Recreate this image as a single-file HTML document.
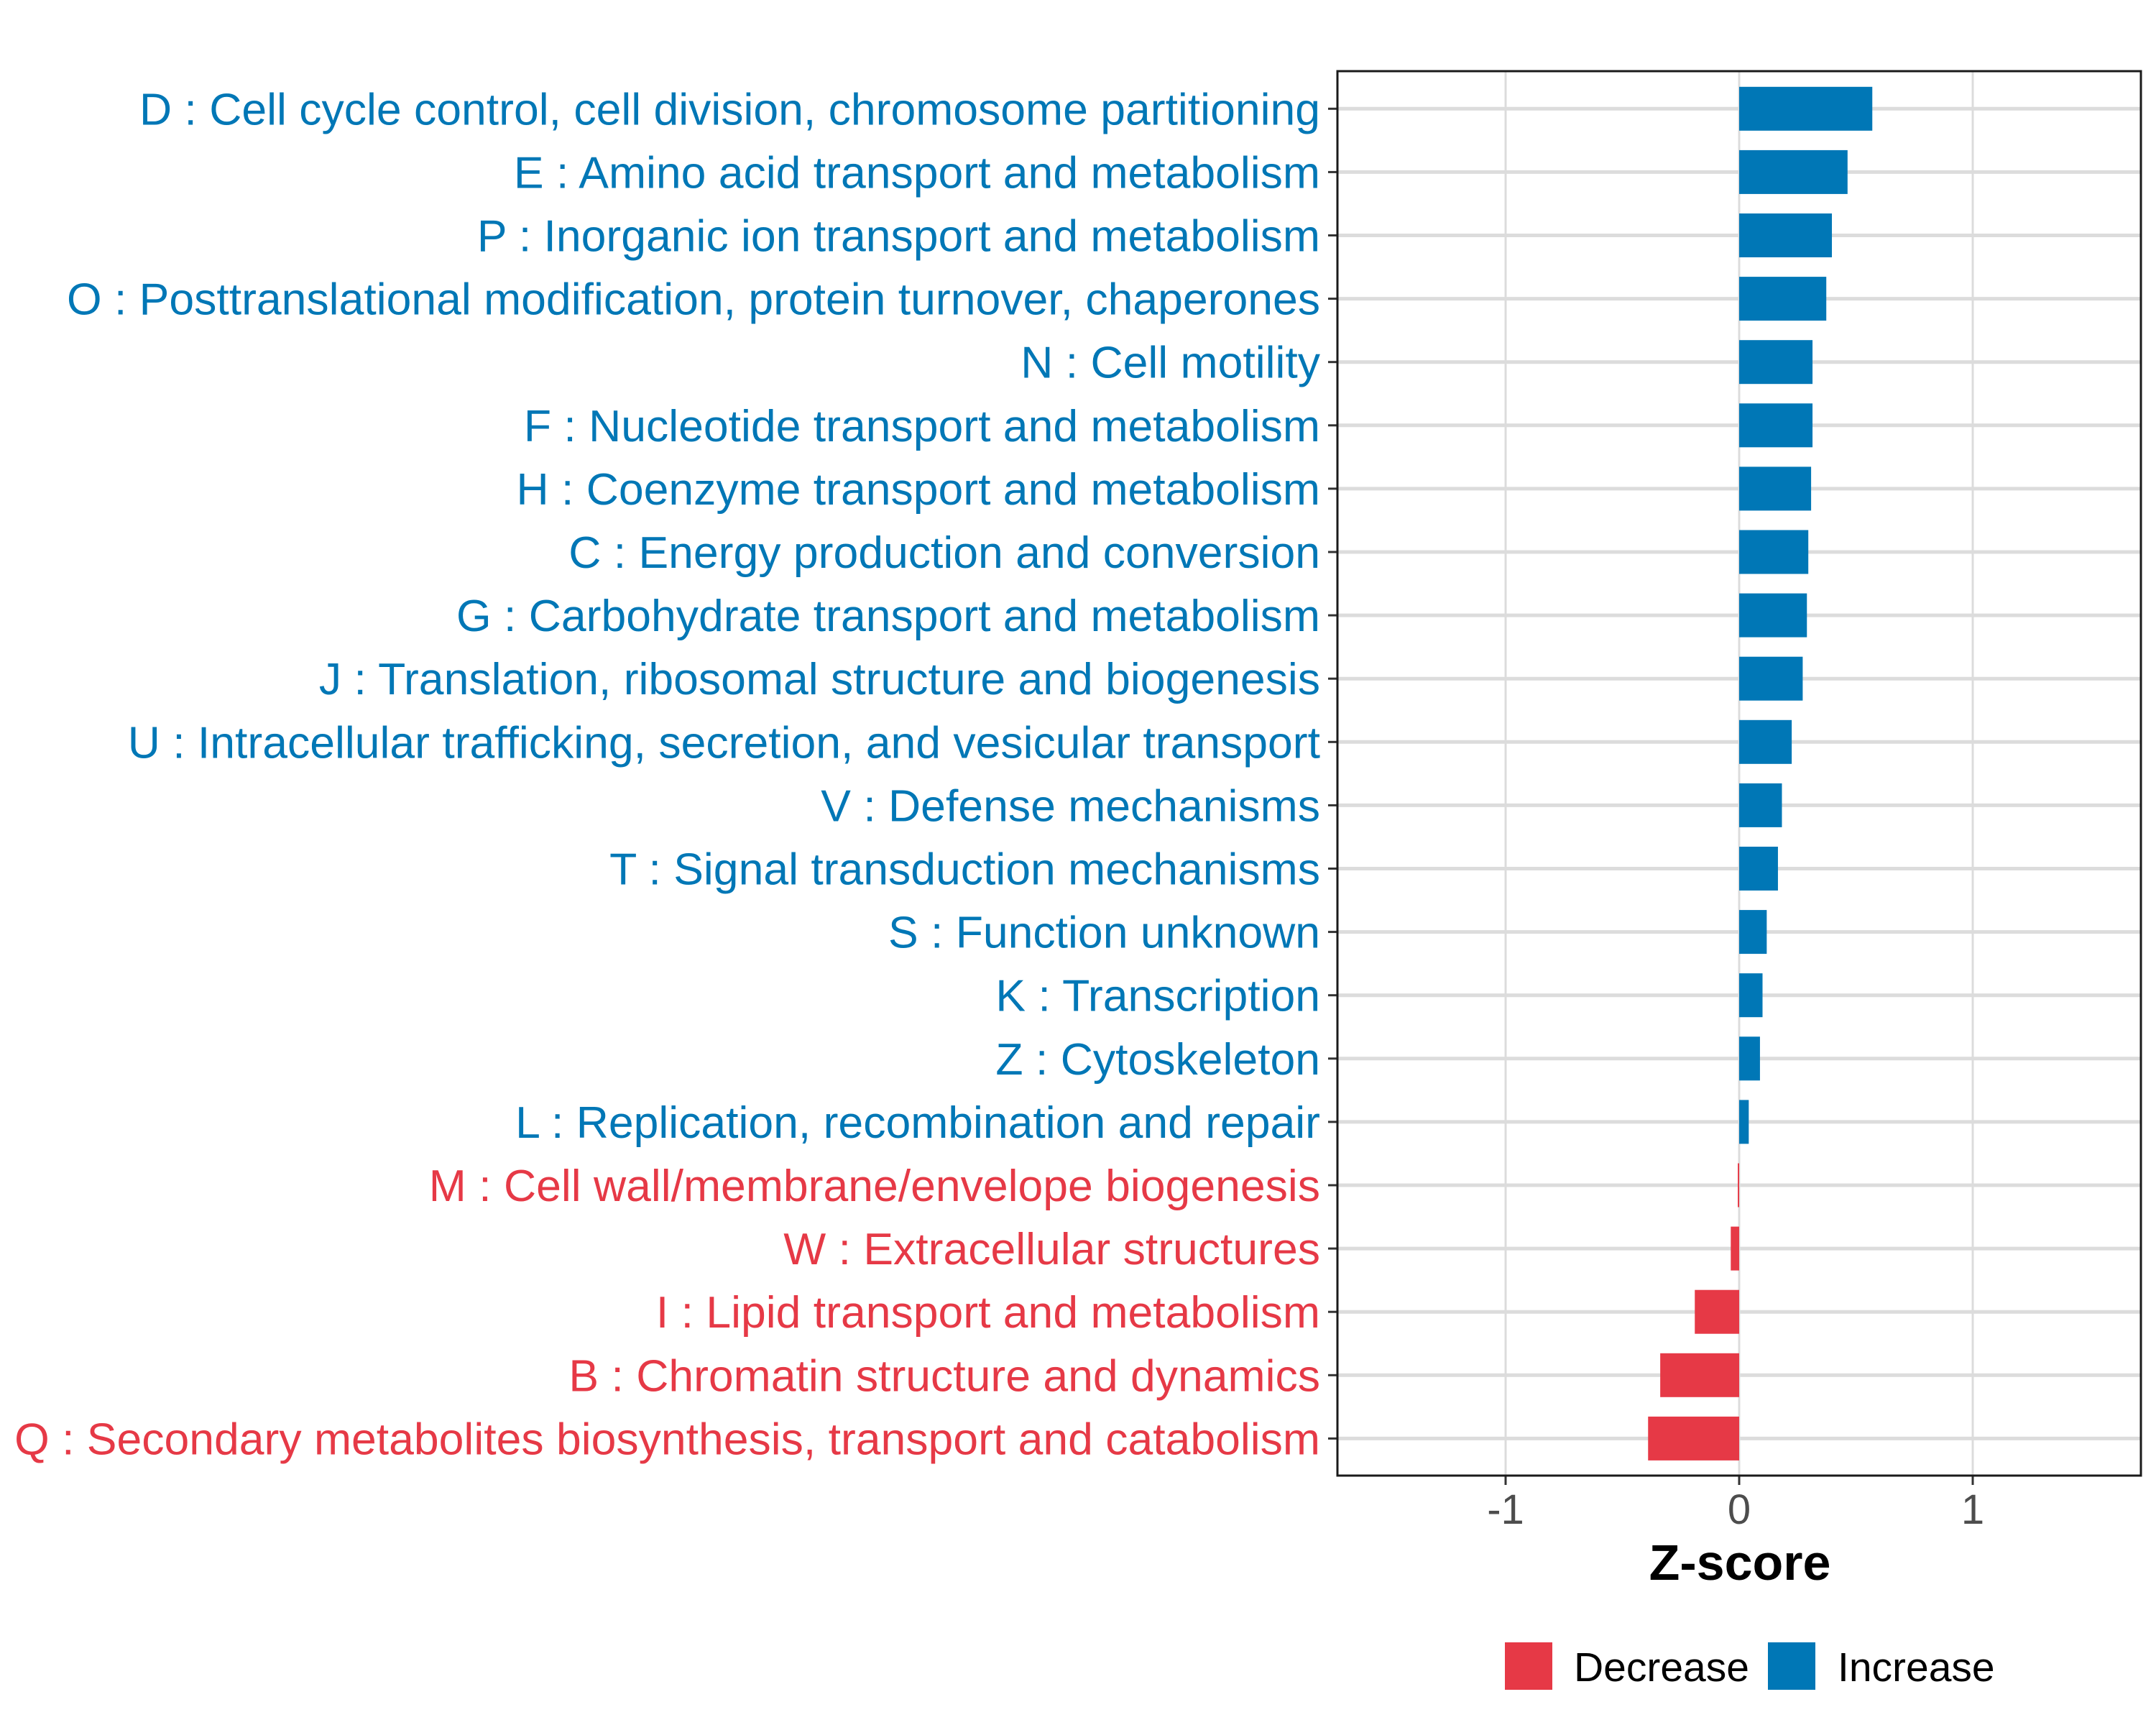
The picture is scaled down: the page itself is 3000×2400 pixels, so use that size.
<!DOCTYPE html>
<html><head><meta charset="utf-8"><style>
html,body{margin:0;padding:0;background:#fff;}
svg{display:block;font-family:"Liberation Sans",Arial,sans-serif;}
</style></head><body>
<svg id="chart" width="3000" height="2400" viewBox="0 0 3000 2400">
<rect x="0" y="0" width="3000" height="2400" fill="#fff"/>
<g id="grid"></g>
<g id="bars"></g>
<g id="ylabels"></g>
<g id="xaxis"></g>
<rect x="1861" y="99" width="1118" height="1954" fill="none" stroke="#1a1a1a" stroke-width="3"/>
<text x="2421" y="2198" text-anchor="middle" font-size="70" font-weight="bold" fill="#000">Z-score</text>
<g>
<rect x="2094" y="2285" width="66" height="66" fill="#E63946"/>
<text x="2190" y="2339" font-size="57" fill="#000">Decrease</text>
<rect x="2460" y="2285" width="66" height="66" fill="#0077B6"/>
<text x="2557" y="2339" font-size="57" fill="#000">Increase</text>
</g>
</svg>
<script>
const categories = [
"D : Cell cycle control, cell division, chromosome partitioning",
"E : Amino acid transport and metabolism",
"P : Inorganic ion transport and metabolism",
"O : Posttranslational modification, protein turnover, chaperones",
"N : Cell motility",
"F : Nucleotide transport and metabolism",
"H : Coenzyme transport and metabolism",
"C : Energy production and conversion",
"G : Carbohydrate transport and metabolism",
"J : Translation, ribosomal structure and biogenesis",
"U : Intracellular trafficking, secretion, and vesicular transport",
"V : Defense mechanisms",
"T : Signal transduction mechanisms",
"S : Function unknown",
"K : Transcription",
"Z : Cytoskeleton",
"L : Replication, recombination and repair",
"M : Cell wall/membrane/envelope biogenesis",
"W : Extracellular structures",
"I : Lipid transport and metabolism",
"B : Chromatin structure and dynamics",
"Q : Secondary metabolites biosynthesis, transport and catabolism"
];
const zscores = [0.57,0.464,0.397,0.373,0.314,0.314,0.308,0.296,0.29,0.272,0.225,0.183,0.166,0.118,0.1,0.089,0.041,-0.006,-0.036,-0.19,-0.338,-0.39];
const xTicks = [-1,0,1];
const xTickLabels = ["-1","0","1"];

const NS="http://www.w3.org/2000/svg";
const PL=1861, PR=2979, PT=99, PB=2053;
const XMIN=-1.72, XMAX=1.72;
const ROW0=151.3, STEP=88.1, BARH=61;
function xs(v){return PL+(v-XMIN)/(XMAX-XMIN)*(PR-PL);}
function ys(i){return ROW0+i*STEP;}
function mk(tag,attrs,parent){const e=document.createElementNS(NS,tag);for(const k in attrs)e.setAttribute(k,attrs[k]);parent.appendChild(e);return e;}
const grid=document.getElementById('grid'),bars=document.getElementById('bars'),yl=document.getElementById('ylabels'),xa=document.getElementById('xaxis');
xTicks.forEach((t,i)=>{
  const x=xs(t);
  const g=mk('line',{x1:x,x2:x,y1:PT,y2:PB,stroke:'#dcdcdc','stroke-width':3},grid);
  
  
  const tk=mk('line',{x1:x,x2:x,y1:PB,y2:PB+13,stroke:'#333','stroke-width':3},xa);
  
  
  const tl=mk('text',{x:x,y:2120,'text-anchor':'middle','font-size':58,fill:'#4d4d4d'},xa);
  tl.textContent=xTickLabels[i];
  
  
});
categories.forEach((c,i)=>{
  const y=ys(i), v=zscores[i];
  const g=mk('line',{x1:PL,x2:PR,y1:y,y2:y,stroke:'#dcdcdc','stroke-width':5},grid);
  
  
  const col=v>=0?'#0077B6':'#E63946';
  const x0=xs(0), x1=xs(v);
  const b=mk('rect',{x:Math.min(x0,x1),y:y-BARH/2,width:Math.max(Math.abs(x1-x0),1.5),height:BARH,fill:col},bars);
  
  
  const tk=mk('line',{x1:PL-13,x2:PL,y1:y,y2:y,stroke:'#333','stroke-width':3},yl);
  
  
  const t=mk('text',{x:1837,y:y+22,'text-anchor':'end','font-size':62.5,fill:col},yl);
  t.textContent=c;
  
  
});
</script>
</body></html>
